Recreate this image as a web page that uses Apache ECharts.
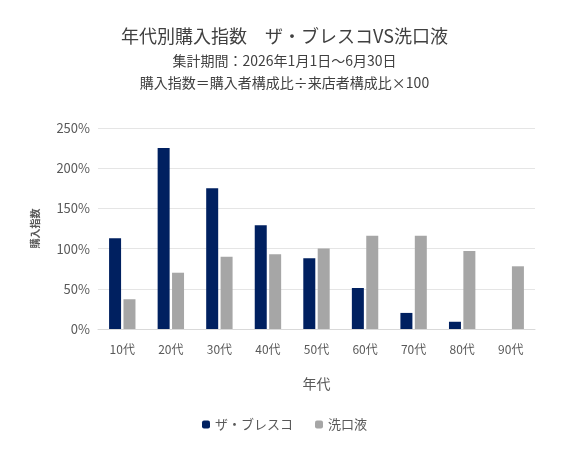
<!DOCTYPE html>
<html>
<head>
<meta charset="utf-8">
<script src="https://cdn.jsdelivr.net/npm/echarts@6/dist/echarts.min.js"></script>
<style>html,body{margin:0;padding:0;background:#fff}#main{width:569px;height:450px}</style>
</head>
<body>
<div id="main"></div>
<script>
var categories = ['10代', '20代', '30代', '40代', '50代', '60代', '70代', '80代', '90代'];
var seriesNames = ['ザ・ブレスコ', '洗口液'];
var bresco = [113, 225, 175, 129, 88, 51, 20, 9, 0];
var mouthwash = [37, 70, 90, 93, 100, 116, 116, 97, 78];

var myChart = echarts.init(document.getElementById('main'));
var font = '"Noto Sans CJK JP", "Noto Sans", sans-serif';

var option = {
    textStyle: { fontFamily: font },
    title: [
        { text: '年代別購入指数　ザ・ブレスコVS洗口液', left: 'center', top: 22,
          textStyle: { fontSize: 18, fontWeight: 'normal', color: '#404040', fontFamily: font } },
        { text: '集計期間：2026年1月1日～6月30日\n購入指数＝購入者構成比÷来店者構成比×100', left: 'center', top: 45,
          textStyle: { fontSize: 14, fontWeight: 'normal', color: '#404040', lineHeight: 22, fontFamily: font } }
    ],
    legend: {
        bottom: 14, left: 'center', itemWidth: 8, itemHeight: 8, itemGap: 22,
        textStyle: { fontSize: 13, color: '#595959' },
        data: seriesNames
    },
    grid: { left: 98, right: 34, top: 128, bottom: 121 },
    xAxis: {
        type: 'category', data: categories,
        name: '年代', nameLocation: 'middle', nameGap: 48,
        nameTextStyle: { fontSize: 14, color: '#595959' },
        axisLine: { lineStyle: { color: '#d9d9d9' } },
        axisTick: { show: false },
        axisLabel: { color: '#595959', fontSize: 12, margin: 14 }
    },
    yAxis: {
        type: 'value', min: 0, max: 250, interval: 50,
        name: '購入指数', nameLocation: 'middle', nameGap: 58, nameRotate: 90,
        nameTextStyle: { fontSize: 10, fontWeight: 'bold', color: '#595959' },
        axisLabel: { formatter: '{value}%', color: '#595959', fontSize: 13 },
        splitLine: { lineStyle: { color: '#e5e5e5' } }
    },
    series: [
        { name: seriesNames[0], type: 'bar', data: bresco, barWidth: 12, barGap: '20%',
          itemStyle: { color: '#002060' } },
        { name: seriesNames[1], type: 'bar', data: mouthwash, barWidth: 12,
          itemStyle: { color: '#a6a6a6' } }
    ]
};

myChart.setOption(option);
</script>
</body>
</html>
